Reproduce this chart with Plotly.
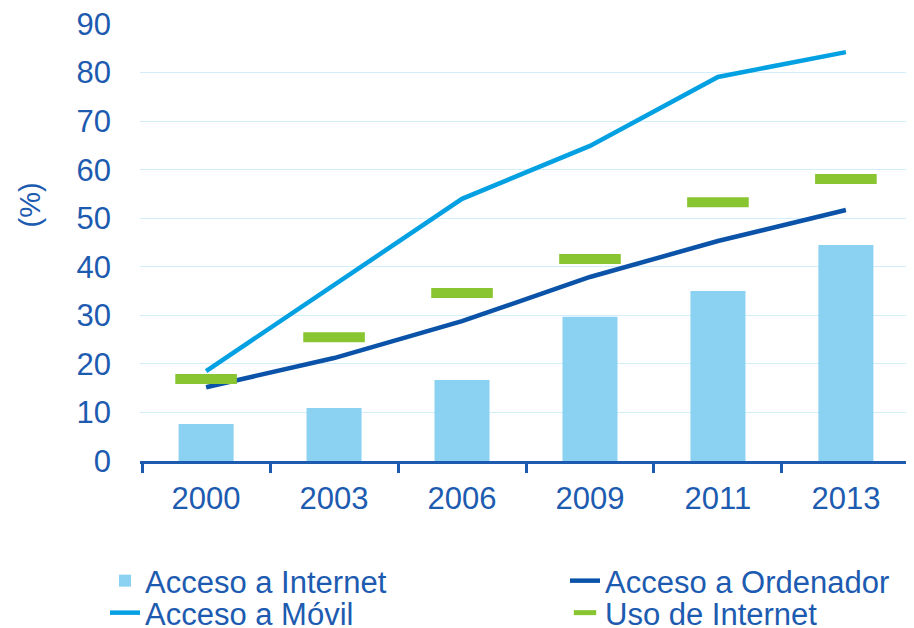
import plotly.graph_objects as go

years = ["2000", "2003", "2006", "2009", "2011", "2013"]
acceso_internet = [7.6, 10.9, 16.7, 29.7, 35.0, 44.5]
acceso_ordenador = [15.2, 21.2, 28.8, 37.9, 45.3, 51.7]
acceso_movil = [18.5, 36.2, 54.0, 64.9, 79.1, 84.2]
uso_internet = [16.9, 25.5, 34.6, 41.6, 53.3, 58.1]
y_ticks = [0, 10, 20, 30, 40, 50, 60, 70, 80, 90]

TEXT = "#1d5bb0"
FONT = "Liberation Sans, Arial, sans-serif"
LEG_FONT = dict(size=31, color=TEXT, family=FONT)

W, H = 906, 620  # page body has an 8px margin
ML, MR, MT, MB = 132, 2, 16, 167
PW, PH = W - ML - MR, H - MT - MB

fig = go.Figure()
fig.add_trace(go.Bar(x=years, y=acceso_internet, name="Acceso a Internet",
                     marker=dict(color="#8bd1f2", line=dict(width=0)), width=0.43,
                     legend="legend"))
fig.add_trace(go.Scatter(x=years, y=acceso_ordenador, name="Acceso a Ordenador", mode="lines",
                         line=dict(color="#0b53a8", width=4.5), legend="legend2"))
fig.add_trace(go.Scatter(x=years, y=acceso_movil, name="Acceso a Móvil", mode="lines",
                         line=dict(color="#03a0e2", width=4.5), legend="legend3"))
fig.add_trace(go.Scatter(x=years, y=uso_internet, name="Uso de Internet", mode="markers",
                         marker=dict(symbol="line-ew", size=44, color="#88c530",
                                     line=dict(color="#88c530", width=10)),
                         legend="legend4"))


def leg(x_px, y_px):
    return dict(orientation="v", xref="container", yref="container",
                x=x_px / W, y=1 - y_px / H, xanchor="left", yanchor="top",
                font=LEG_FONT, bgcolor="rgba(0,0,0,0)", borderwidth=0)


fig.update_layout(
    width=W, height=H,
    margin=dict(l=ML, r=MR, t=MT, b=MB, autoexpand=False),
    paper_bgcolor="white", plot_bgcolor="white",
    font=dict(family=FONT, color=TEXT, size=28),
    showlegend=True,
    legend=leg(97, 546),
    legend2=leg(557, 546),
    legend3=leg(97, 578),
    legend4=leg(557, 578),
    xaxis=dict(type="category", tickson="boundaries", ticks="outside", ticklen=9,
               tickwidth=2.5, tickcolor=TEXT, showline=True, linecolor=TEXT, linewidth=2.5,
               showgrid=False, tickfont=dict(size=31, color=TEXT), ticklabelstandoff=8,
               ticklabeloverflow="allow"),
    yaxis=dict(range=[0, 90], tickvals=y_ticks, showgrid=True, gridcolor="#d3eefb", gridwidth=1,
               zeroline=False, showline=False, tickfont=dict(size=31, color=TEXT),
               ticklabelstandoff=28, ticklabeloverflow="allow"),
    annotations=[dict(text="(%)", xref="paper", yref="paper",
                      x=(21.5 - ML) / PW, y=(H - MB - 197) / PH,
                      xanchor="center", yanchor="middle", textangle=-90, showarrow=False,
                      font=dict(size=29, color=TEXT, family=FONT))],
)

fig.write_html("out.html")
